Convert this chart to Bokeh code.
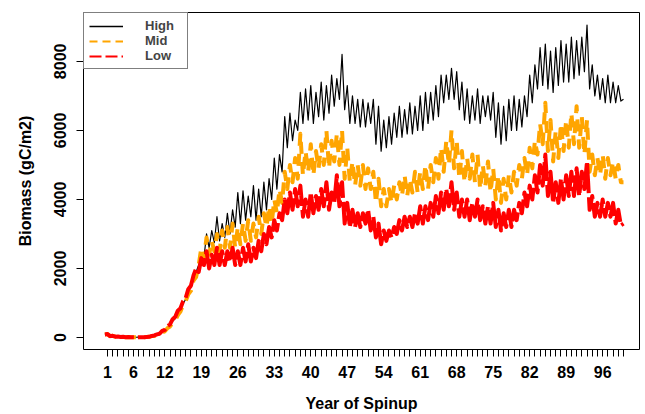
import numpy as np
from bokeh.plotting import figure
from bokeh.models import FixedTicker, Range1d, Legend, LegendItem, ColumnDataSource
from bokeh.embed import file_html
from bokeh.resources import INLINE

years = list(range(1, 101))
y_ticks = [0, 2000, 4000, 6000, 8000]
x_tick_labels = [1, 6, 12, 19, 26, 33, 40, 47, 54, 61, 68, 75, 82, 89, 96]

high_peak = [
    100, 50, 30, 20, 15, 10, 10, 10, 20, 50,
    100, 200, 350, 550, 800, 1100, 1450, 1900, 2400, 3000,
    3100, 3500, 3300, 3600, 3700, 4200, 4250, 4100, 4400, 4300,
    4500, 4600, 5200, 5300, 6400, 6500, 6300, 7100, 7200, 7300,
    7100, 7400, 7300, 7600, 7500, 8200, 7300, 7000, 6900, 6900,
    6800, 6900, 6700, 6300, 6400, 6500, 6700, 6600, 6800, 6700,
    7000, 7100, 7100, 7300, 7600, 7600, 7800, 7700, 7400, 7200,
    7000, 7200, 7000, 7000, 7100, 6800, 6700, 6900, 7000, 6900,
    7000, 7600, 7900, 8400, 8500, 8300, 8400, 8600, 8500, 8700,
    8600, 8700, 9050, 7900, 7600, 7500, 7600, 7400, 7300, 6900]
high_trough = [
    90, 40, 25, 15, 10, 8, 8, 10, 15, 40,
    80, 170, 300, 480, 700, 1000, 1350, 1750, 2100, 2300,
    2600, 2750, 2800, 2900, 3000, 3200, 3300, 3400, 3500, 3400,
    3500, 3700, 4000, 4300, 4800, 5500, 5700, 6000, 6200, 6300,
    6200, 6400, 6300, 6500, 6700, 6900, 6600, 6200, 6200, 6100,
    6100, 6200, 5600, 5400, 5500, 5600, 5800, 5800, 5900, 5900,
    6000, 6000, 6200, 6300, 6400, 6800, 6900, 6900, 6600, 6300,
    6200, 6300, 6200, 6400, 6300, 5800, 5600, 5700, 6000, 6000,
    6100, 6400, 6800, 7200, 7300, 7200, 7100, 7300, 7400, 7400,
    7500, 7600, 7700, 7200, 7000, 6900, 6800, 6800, 6800, 6850]

mid_peak = [
    100, 50, 30, 20, 15, 10, 10, 10, 20, 50,
    90, 180, 320, 500, 750, 1050, 1350, 1750, 2600, 2900,
    2800, 3000, 3100, 3200, 3300, 3200, 3300, 3400, 3300, 3500,
    3600, 3800, 4000, 4300, 4800, 5000, 5200, 5900, 5400, 5600,
    5400, 5600, 6000, 5700, 5900, 6000, 5500, 5100, 5000, 5000,
    4900, 4800, 4600, 4300, 4300, 4400, 4500, 4700, 4600, 4800,
    4800, 5000, 5000, 5200, 5500, 5700, 6000, 5700, 5400, 5200,
    5300, 5300, 5000, 5100, 4900, 4700, 4600, 4700, 4800, 5000,
    5200, 5500, 5700, 6200, 6800, 6300, 6000, 6200, 6300, 6500,
    6700, 6400, 6300, 5300, 5200, 5300, 5200, 5100, 5000, 4500]
mid_trough = [
    90, 40, 25, 15, 10, 8, 8, 10, 15, 40,
    70, 150, 270, 430, 650, 950, 1250, 1650, 2100, 2300,
    2400, 2500, 2500, 2600, 2600, 2600, 2700, 2800, 2800, 2900,
    3000, 3200, 3300, 3600, 3900, 4300, 4500, 4600, 4700, 4800,
    4700, 4900, 5000, 4900, 5100, 5000, 4600, 4500, 4400, 4400,
    4300, 4300, 3900, 3800, 3800, 3900, 4000, 4100, 4100, 4200,
    4200, 4300, 4300, 4500, 4600, 4800, 5000, 4900, 4600, 4500,
    4600, 4500, 4300, 4400, 4200, 4000, 3900, 4000, 4200, 4400,
    4600, 4700, 4900, 5300, 5600, 5400, 5100, 5200, 5400, 5500,
    5600, 5500, 5300, 4800, 4700, 4700, 4600, 4700, 4600, 4500]

low_peak = [
    100, 50, 30, 20, 15, 10, 10, 10, 20, 60,
    110, 220, 380, 600, 850, 1150, 1500, 2000, 2300, 2500,
    2400, 2600, 2500, 2500, 2600, 2500, 2600, 2700, 2600, 2800,
    3000, 3200, 3400, 3600, 4000, 4200, 4300, 4400, 4000, 4200,
    4100, 4300, 4500, 4200, 4700, 4500, 3900, 3700, 3600, 3600,
    3700, 3500, 3300, 3100, 3100, 3200, 3400, 3500, 3500, 3600,
    3800, 3800, 3900, 4100, 4200, 4300, 4500, 4200, 4000, 4000,
    3900, 4000, 3800, 3800, 3900, 3700, 3600, 3700, 3700, 3900,
    4200, 4400, 4700, 5000, 5300, 4800, 4500, 4600, 4700, 4800,
    4900, 4800, 5100, 4100, 3900, 4000, 3900, 3900, 3700, 3300]
low_trough = [
    90, 40, 25, 15, 10, 8, 8, 10, 15, 45,
    90, 190, 330, 530, 780, 1050, 1400, 1800, 1900, 2100,
    2000, 2100, 2100, 2100, 2200, 2100, 2100, 2200, 2200, 2300,
    2500, 2700, 2900, 3100, 3400, 3600, 3700, 3800, 3500, 3500,
    3600, 3700, 3800, 3700, 3900, 3800, 3300, 3200, 3200, 3200,
    3300, 3100, 2900, 2700, 2800, 2900, 3000, 3100, 3200, 3200,
    3300, 3300, 3400, 3500, 3600, 3700, 3800, 3700, 3500, 3500,
    3400, 3500, 3400, 3300, 3300, 3200, 3100, 3200, 3200, 3400,
    3600, 3800, 4000, 4200, 4400, 4100, 3900, 3900, 4000, 4100,
    4100, 4100, 4300, 3700, 3500, 3500, 3500, 3500, 3300, 3250]


def path(troughs, peaks):
    xs, ys = [], []
    for yr, lo, hi in zip(years, troughs, peaks):
        xs += [yr - 0.5, yr]
        ys += [lo, hi]
    return ColumnDataSource(dict(x=xs, y=ys))


FONT = "Liberation Sans"

p = figure(width=645, height=414,
           x_range=Range1d(-3.605, 103.07), y_range=Range1d(-347, 9415),
           output_backend="svg", toolbar_location=None,
           min_border_left=83, min_border_right=6, min_border_top=12, min_border_bottom=64)
p.grid.visible = False
p.outline_line_color = "black"
p.outline_line_width = 1
p.background_fill_color = "white"
p.border_fill_color = "white"

p.line("x", "y", source=path(high_trough, high_peak), line_color="black", line_width=1.2,
       line_join="round")
p.line("x", "y", source=path(mid_trough, mid_peak), line_color="#FFA500", line_width=4,
       line_dash="12 8", line_join="round")
p.line("x", "y", source=path(low_trough, low_peak), line_color="#FF0000", line_width=4,
       line_dash="30 4", line_join="round")

# axes
xa = p.xaxis[0]
xa.ticker = FixedTicker(ticks=years, minor_ticks=[])
xa.major_label_overrides = {t: (str(t) if t in x_tick_labels else "") for t in years}
ya = p.yaxis[0]
ya.ticker = FixedTicker(ticks=y_ticks, minor_ticks=[])
ya.major_label_orientation = "vertical"
for ax in (xa, ya):
    ax.axis_line_color = None
    ax.major_tick_out = 7
    ax.major_tick_in = 0
    ax.minor_tick_out = 0
    ax.minor_tick_in = 0
    ax.major_tick_line_color = "black"
    ax.major_label_text_font = FONT
    ax.major_label_text_font_style = "bold"
    ax.major_label_text_font_size = "16px"
    ax.major_label_text_color = "black"
    ax.axis_label_text_font = FONT
    ax.axis_label_text_font_style = "bold"
    ax.axis_label_text_font_size = "16px"
    ax.axis_label_text_color = "black"
xa.axis_label = "Year of Spinup"
ya.axis_label = "Biomass (gC/m2)"
xa.major_label_standoff = 9
xa.axis_label_standoff = 14
ya.major_label_standoff = 10
ya.axis_label_standoff = 18

# legend (sample renderers hold a single NaN so that nothing is drawn in the plot)
nan_src = dict(x=np.array([np.nan]), y=np.array([np.nan]))
r_h = p.line(x=nan_src["x"], y=nan_src["y"], line_color="black", line_width=1.5)
r_m = p.line(x=nan_src["x"], y=nan_src["y"], line_color="#FFA500", line_width=2, line_dash="8 5")
r_l = p.line(x=nan_src["x"], y=nan_src["y"], line_color="#FF0000", line_width=2, line_dash="12 4")
legend = Legend(items=[LegendItem(label="High", renderers=[r_h]),
                       LegendItem(label="Mid", renderers=[r_m]),
                       LegendItem(label="Low", renderers=[r_l])],
                location="top_left", margin=0, padding=5, spacing=-1,
                glyph_width=34, glyph_height=12, label_height=12, label_width=37,
                label_standoff=22,
                label_text_font=FONT, label_text_font_style="bold",
                label_text_font_size="13px", border_line_color="black",
                border_line_width=1, background_fill_color="white", background_fill_alpha=1)
p.add_layout(legend)

open("out.html", "w").write(file_html(p, INLINE))
